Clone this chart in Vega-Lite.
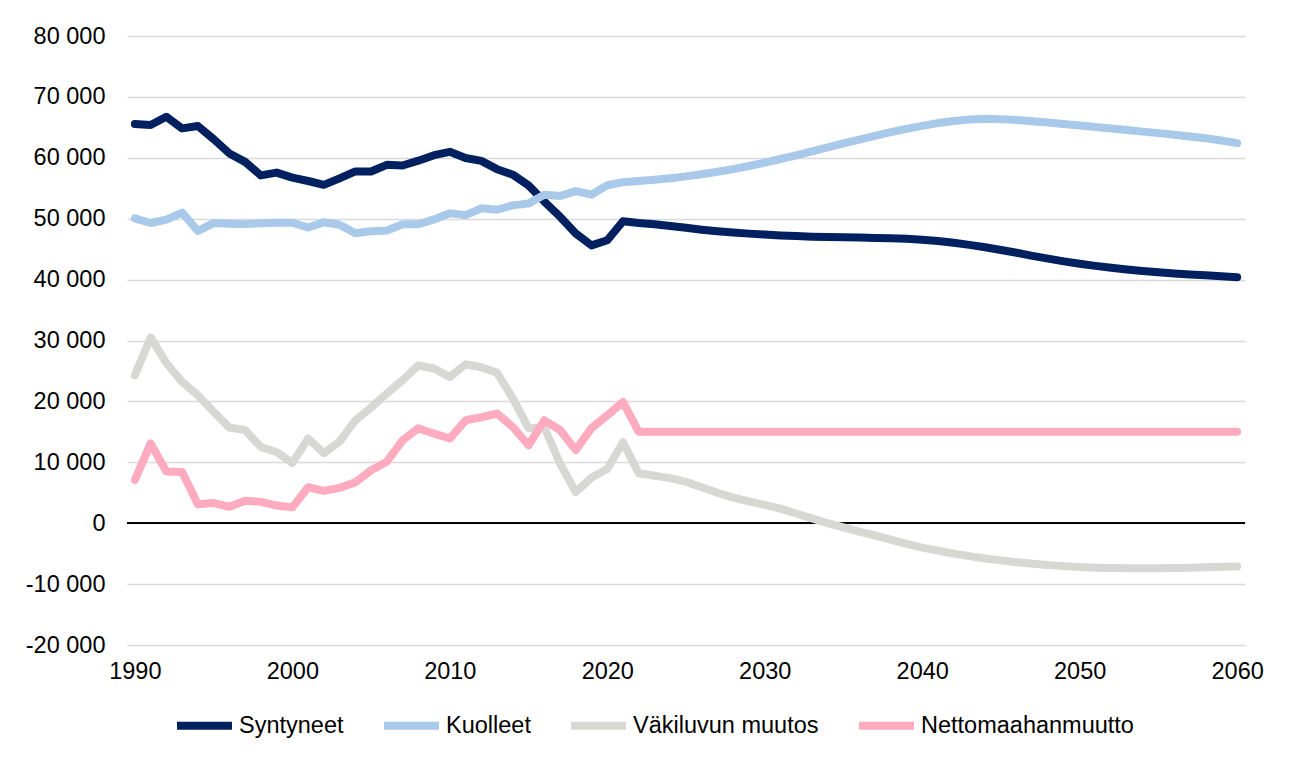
{
  "$schema": "https://vega.github.io/schema/vega-lite/v6.json",
  "width": 1118,
  "height": 609,
  "autosize": "none",
  "padding": {"left": 127, "top": 36, "right": 46, "bottom": 112},
  "background": "white",
  "config": {
    "view": {"stroke": null},
    "font": "Liberation Sans",
    "axis": {"labelFont": "Liberation Sans", "labelFontSize": 23.5, "labelColor": "#000000", "ticks": false, "domain": false, "title": null},
    "legend": {"labelFont": "Liberation Sans", "labelFontSize": 23.5, "labelColor": "#000000", "labelLimit": 500}
  },
  "data": {
    "values": [
      {"year": 1990, "Syntyneet": 65549, "Kuolleet": 50058, "Väkiluvun muutos": 24300, "Nettomaahanmuutto": 7100},
      {"year": 1991, "Syntyneet": 65395, "Kuolleet": 49294, "Väkiluvun muutos": 30500, "Nettomaahanmuutto": 13100},
      {"year": 1992, "Syntyneet": 66731, "Kuolleet": 49844, "Väkiluvun muutos": 26300, "Nettomaahanmuutto": 8500},
      {"year": 1993, "Syntyneet": 64826, "Kuolleet": 50988, "Väkiluvun muutos": 23200, "Nettomaahanmuutto": 8400},
      {"year": 1994, "Syntyneet": 65231, "Kuolleet": 48000, "Väkiluvun muutos": 21000, "Nettomaahanmuutto": 3100},
      {"year": 1995, "Syntyneet": 63067, "Kuolleet": 49280, "Väkiluvun muutos": 18300, "Nettomaahanmuutto": 3300},
      {"year": 1996, "Syntyneet": 60723, "Kuolleet": 49167, "Väkiluvun muutos": 15700, "Nettomaahanmuutto": 2700},
      {"year": 1997, "Syntyneet": 59329, "Kuolleet": 49108, "Väkiluvun muutos": 15300, "Nettomaahanmuutto": 3700},
      {"year": 1998, "Syntyneet": 57108, "Kuolleet": 49262, "Väkiluvun muutos": 12500, "Nettomaahanmuutto": 3500},
      {"year": 1999, "Syntyneet": 57574, "Kuolleet": 49345, "Väkiluvun muutos": 11700, "Nettomaahanmuutto": 2900},
      {"year": 2000, "Syntyneet": 56742, "Kuolleet": 49339, "Väkiluvun muutos": 9900, "Nettomaahanmuutto": 2600},
      {"year": 2001, "Syntyneet": 56189, "Kuolleet": 48550, "Väkiluvun muutos": 13900, "Nettomaahanmuutto": 5900},
      {"year": 2002, "Syntyneet": 55555, "Kuolleet": 49418, "Väkiluvun muutos": 11500, "Nettomaahanmuutto": 5300},
      {"year": 2003, "Syntyneet": 56630, "Kuolleet": 48996, "Väkiluvun muutos": 13400, "Nettomaahanmuutto": 5800},
      {"year": 2004, "Syntyneet": 57758, "Kuolleet": 47600, "Väkiluvun muutos": 16900, "Nettomaahanmuutto": 6700},
      {"year": 2005, "Syntyneet": 57745, "Kuolleet": 47928, "Väkiluvun muutos": 19000, "Nettomaahanmuutto": 8700},
      {"year": 2006, "Syntyneet": 58840, "Kuolleet": 48065, "Väkiluvun muutos": 21300, "Nettomaahanmuutto": 10100},
      {"year": 2007, "Syntyneet": 58729, "Kuolleet": 49077, "Väkiluvun muutos": 23500, "Nettomaahanmuutto": 13600},
      {"year": 2008, "Syntyneet": 59530, "Kuolleet": 49094, "Väkiluvun muutos": 25900, "Nettomaahanmuutto": 15600},
      {"year": 2009, "Syntyneet": 60430, "Kuolleet": 49883, "Väkiluvun muutos": 25400, "Nettomaahanmuutto": 14700},
      {"year": 2010, "Syntyneet": 60980, "Kuolleet": 50887, "Väkiluvun muutos": 24000, "Nettomaahanmuutto": 13900},
      {"year": 2011, "Syntyneet": 59961, "Kuolleet": 50585, "Väkiluvun muutos": 26100, "Nettomaahanmuutto": 16900},
      {"year": 2012, "Syntyneet": 59493, "Kuolleet": 51707, "Väkiluvun muutos": 25600, "Nettomaahanmuutto": 17400},
      {"year": 2013, "Syntyneet": 58134, "Kuolleet": 51472, "Väkiluvun muutos": 24700, "Nettomaahanmuutto": 18000},
      {"year": 2014, "Syntyneet": 57232, "Kuolleet": 52186, "Väkiluvun muutos": 20500, "Nettomaahanmuutto": 15800},
      {"year": 2015, "Syntyneet": 55472, "Kuolleet": 52492, "Väkiluvun muutos": 15600, "Nettomaahanmuutto": 12800},
      {"year": 2016, "Syntyneet": 52814, "Kuolleet": 53923, "Väkiluvun muutos": 15800, "Nettomaahanmuutto": 16900},
      {"year": 2017, "Syntyneet": 50321, "Kuolleet": 53722, "Väkiluvun muutos": 9800, "Nettomaahanmuutto": 15300},
      {"year": 2018, "Syntyneet": 47577, "Kuolleet": 54527, "Väkiluvun muutos": 5100, "Nettomaahanmuutto": 12000},
      {"year": 2019, "Syntyneet": 45613, "Kuolleet": 53949, "Väkiluvun muutos": 7500, "Nettomaahanmuutto": 15600},
      {"year": 2020, "Syntyneet": 46463, "Kuolleet": 55488, "Väkiluvun muutos": 8900, "Nettomaahanmuutto": 17700},
      {"year": 2021, "Syntyneet": 49594, "Kuolleet": 56000, "Väkiluvun muutos": 13300, "Nettomaahanmuutto": 19900},
      {"year": 2022, "Syntyneet": 49300, "Kuolleet": 56200, "Väkiluvun muutos": 8200, "Nettomaahanmuutto": 15000},
      {"year": 2023, "Syntyneet": 49100, "Kuolleet": 56400, "Väkiluvun muutos": 7800, "Nettomaahanmuutto": 15000},
      {"year": 2024, "Syntyneet": 48800, "Kuolleet": 56650, "Väkiluvun muutos": 7400, "Nettomaahanmuutto": 15000},
      {"year": 2025, "Syntyneet": 48500, "Kuolleet": 56950, "Väkiluvun muutos": 6800, "Nettomaahanmuutto": 15000},
      {"year": 2026, "Syntyneet": 48200, "Kuolleet": 57300, "Väkiluvun muutos": 5900, "Nettomaahanmuutto": 15000},
      {"year": 2027, "Syntyneet": 47950, "Kuolleet": 57700, "Väkiluvun muutos": 5000, "Nettomaahanmuutto": 15000},
      {"year": 2028, "Syntyneet": 47750, "Kuolleet": 58150, "Väkiluvun muutos": 4200, "Nettomaahanmuutto": 15000},
      {"year": 2029, "Syntyneet": 47550, "Kuolleet": 58650, "Väkiluvun muutos": 3600, "Nettomaahanmuutto": 15000},
      {"year": 2030, "Syntyneet": 47400, "Kuolleet": 59200, "Väkiluvun muutos": 3000, "Nettomaahanmuutto": 15000},
      {"year": 2031, "Syntyneet": 47250, "Kuolleet": 59800, "Väkiluvun muutos": 2400, "Nettomaahanmuutto": 15000},
      {"year": 2032, "Syntyneet": 47150, "Kuolleet": 60400, "Väkiluvun muutos": 1600, "Nettomaahanmuutto": 15000},
      {"year": 2033, "Syntyneet": 47050, "Kuolleet": 61050, "Väkiluvun muutos": 800, "Nettomaahanmuutto": 15000},
      {"year": 2034, "Syntyneet": 47000, "Kuolleet": 61700, "Väkiluvun muutos": 0, "Nettomaahanmuutto": 15000},
      {"year": 2035, "Syntyneet": 46950, "Kuolleet": 62350, "Väkiluvun muutos": -700, "Nettomaahanmuutto": 15000},
      {"year": 2036, "Syntyneet": 46900, "Kuolleet": 63000, "Väkiluvun muutos": -1400, "Nettomaahanmuutto": 15000},
      {"year": 2037, "Syntyneet": 46850, "Kuolleet": 63600, "Väkiluvun muutos": -2000, "Nettomaahanmuutto": 15000},
      {"year": 2038, "Syntyneet": 46800, "Kuolleet": 64200, "Väkiluvun muutos": -2700, "Nettomaahanmuutto": 15000},
      {"year": 2039, "Syntyneet": 46700, "Kuolleet": 64750, "Väkiluvun muutos": -3400, "Nettomaahanmuutto": 15000},
      {"year": 2040, "Syntyneet": 46550, "Kuolleet": 65250, "Väkiluvun muutos": -4000, "Nettomaahanmuutto": 15000},
      {"year": 2041, "Syntyneet": 46350, "Kuolleet": 65700, "Väkiluvun muutos": -4500, "Nettomaahanmuutto": 15000},
      {"year": 2042, "Syntyneet": 46050, "Kuolleet": 66050, "Väkiluvun muutos": -5000, "Nettomaahanmuutto": 15000},
      {"year": 2043, "Syntyneet": 45700, "Kuolleet": 66300, "Väkiluvun muutos": -5400, "Nettomaahanmuutto": 15000},
      {"year": 2044, "Syntyneet": 45300, "Kuolleet": 66400, "Väkiluvun muutos": -5800, "Nettomaahanmuutto": 15000},
      {"year": 2045, "Syntyneet": 44850, "Kuolleet": 66350, "Väkiluvun muutos": -6100, "Nettomaahanmuutto": 15000},
      {"year": 2046, "Syntyneet": 44400, "Kuolleet": 66200, "Väkiluvun muutos": -6400, "Nettomaahanmuutto": 15000},
      {"year": 2047, "Syntyneet": 43900, "Kuolleet": 66000, "Väkiluvun muutos": -6650, "Nettomaahanmuutto": 15000},
      {"year": 2048, "Syntyneet": 43450, "Kuolleet": 65800, "Väkiluvun muutos": -6850, "Nettomaahanmuutto": 15000},
      {"year": 2049, "Syntyneet": 43000, "Kuolleet": 65550, "Väkiluvun muutos": -7050, "Nettomaahanmuutto": 15000},
      {"year": 2050, "Syntyneet": 42600, "Kuolleet": 65300, "Väkiluvun muutos": -7200, "Nettomaahanmuutto": 15000},
      {"year": 2051, "Syntyneet": 42250, "Kuolleet": 65050, "Väkiluvun muutos": -7300, "Nettomaahanmuutto": 15000},
      {"year": 2052, "Syntyneet": 41950, "Kuolleet": 64800, "Väkiluvun muutos": -7350, "Nettomaahanmuutto": 15000},
      {"year": 2053, "Syntyneet": 41650, "Kuolleet": 64550, "Väkiluvun muutos": -7400, "Nettomaahanmuutto": 15000},
      {"year": 2054, "Syntyneet": 41400, "Kuolleet": 64300, "Väkiluvun muutos": -7400, "Nettomaahanmuutto": 15000},
      {"year": 2055, "Syntyneet": 41200, "Kuolleet": 64050, "Väkiluvun muutos": -7400, "Nettomaahanmuutto": 15000},
      {"year": 2056, "Syntyneet": 41000, "Kuolleet": 63800, "Väkiluvun muutos": -7350, "Nettomaahanmuutto": 15000},
      {"year": 2057, "Syntyneet": 40850, "Kuolleet": 63500, "Väkiluvun muutos": -7300, "Nettomaahanmuutto": 15000},
      {"year": 2058, "Syntyneet": 40700, "Kuolleet": 63200, "Väkiluvun muutos": -7250, "Nettomaahanmuutto": 15000},
      {"year": 2059, "Syntyneet": 40550, "Kuolleet": 62850, "Väkiluvun muutos": -7150, "Nettomaahanmuutto": 15000},
      {"year": 2060, "Syntyneet": 40400, "Kuolleet": 62400, "Väkiluvun muutos": -7100, "Nettomaahanmuutto": 15000}
    ]
  },
  "layer": [
    {
      "mark": {"type": "rule", "color": "#000000", "strokeWidth": 1.5},
      "encoding": {"y": {"datum": 0, "type": "quantitative"}}
    },
    {
      "transform": [
        {"fold": ["Syntyneet", "Kuolleet", "Väkiluvun muutos", "Nettomaahanmuutto"], "as": ["series", "value"]}
      ],
      "mark": {"type": "line", "strokeWidth": 8, "strokeJoin": "round", "strokeCap": "round"},
      "encoding": {
        "x": {
          "field": "year", "type": "quantitative",
          "scale": {"domain": [1989.5, 2060.5], "nice": false, "zero": false},
          "axis": {"values": [1990, 2000, 2010, 2020, 2030, 2040, 2050, 2060], "format": "d", "grid": false, "labelPadding": 14}
        },
        "y": {
          "field": "value", "type": "quantitative",
          "scale": {"domain": [-20000, 80000], "nice": false},
          "axis": {
            "values": [-20000, -10000, 0, 10000, 20000, 30000, 40000, 50000, 60000, 70000, 80000],
            "labelExpr": "(datum.value < 0 ? '-' : '') + replace(format(abs(datum.value), ','), regexp(',', 'g'), ' ')",
            "grid": true, "gridColor": "#D9D9D9", "gridWidth": 1.5, "labelPadding": 22
          }
        },
        "color": {
          "field": "series", "type": "nominal",
          "scale": {
            "domain": ["Syntyneet", "Kuolleet", "Väkiluvun muutos", "Nettomaahanmuutto"],
            "range": ["#002060", "#A9C9EA", "#D7D8D3", "#FFABBF"]
          },
          "legend": {
            "title": null, "orient": "none", "direction": "horizontal",
            "legendX": 46, "legendY": 658,
            "symbolType": "stroke", "symbolSize": 3025, "symbolStrokeWidth": 8,
            "columnPadding": 24, "labelOffset": 3, "labelLimit": 500
          }
        }
      }
    }
  ]
}
